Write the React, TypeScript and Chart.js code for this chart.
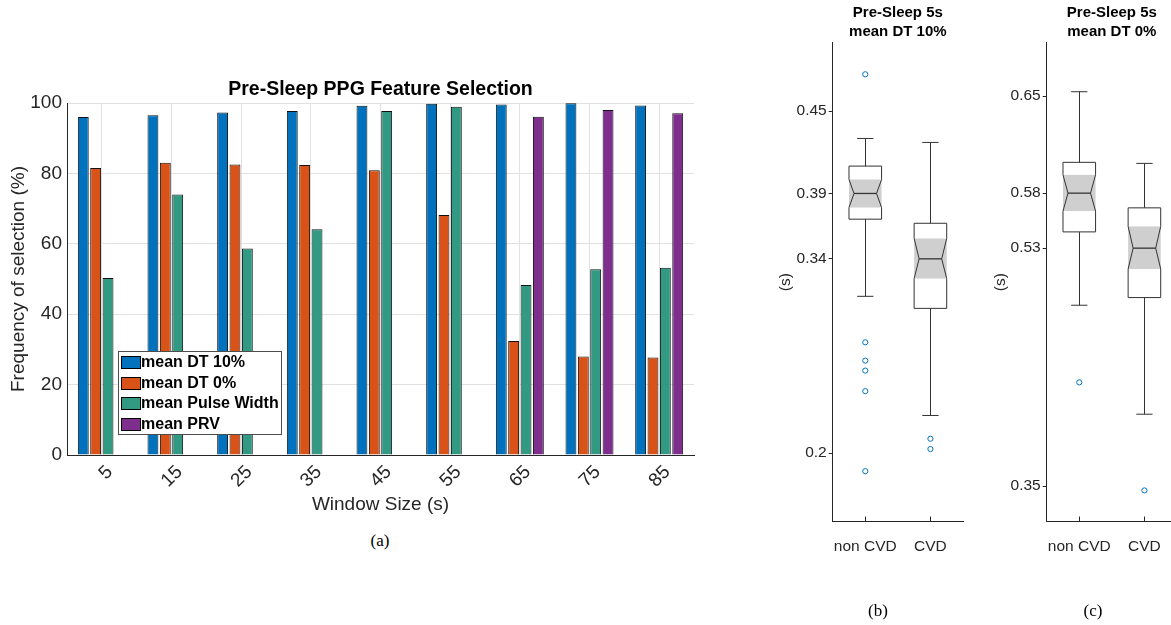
import React, { useEffect, useRef } from 'react';
import { Chart, registerables } from 'chart.js';
Chart.register(...registerables);

const FONT = "'Liberation Sans', Arial, Helvetica, sans-serif";
const SERIF = "'Liberation Serif', 'Times New Roman', serif";
const AXIS = '#262626';
const GRID = '#e1e1e1';

// ---------- Panel (a) data ----------
const windowSizes = ['5', '15', '25', '35', '45', '55', '65', '75', '85'];
const meanDT10 = [96.0, 96.5, 97.3, 97.7, 99.2, 99.8, 99.6, 99.9, 99.3];
const meanDT0 = [81.5, 83.0, 82.5, 82.4, 80.9, 68.2, 32.4, 28.0, 27.7];
const meanPulseWidth = [50.3, 74.0, 58.7, 64.1, 97.7, 98.9, 48.3, 52.8, 53.2];
const meanPRV = [0, 0, 0, 0, 0, 0, 96.1, 98.0, 97.1];
const seriesLabels = ['mean DT 10%', 'mean DT 0%', 'mean Pulse Width', 'mean PRV'];
const seriesColors = ['#0072BD', '#D95319', '#329982', '#7E2F8E'];

// ---------- Panel (b)/(c) data ----------
const groupLabels = ['non CVD', 'CVD'];
// stats order: lower whisker, q1, notch low, median, notch high, q3, upper whisker
const dt10NonCvdStats = [0.3146, 0.371, 0.3795, 0.3898, 0.4, 0.4098, 0.43];
const dt10CvdStats = [0.2275, 0.3058, 0.3276, 0.342, 0.3569, 0.368, 0.4271];
const dt10NonCvdOutliers = [0.4769, 0.281, 0.2676, 0.2603, 0.2453, 0.1868];
const dt10CvdOutliers = [0.2105, 0.203];
const dt10Ticks = [0.2, 0.342, 0.3898, 0.45];
const dt10Range = [0.15, 0.5];

const dt0NonCvdStats = [0.4891, 0.5455, 0.5615, 0.5753, 0.5894, 0.599, 0.6533];
const dt0CvdStats = [0.4053, 0.495, 0.517, 0.533, 0.5497, 0.564, 0.5982];
const dt0NonCvdOutliers = [0.4298];
const dt0CvdOutliers = [0.3467];
const dt0Ticks = [0.35, 0.533, 0.5753, 0.65];
const dt0Range = [0.3228, 0.691];

// ---------- plugins ----------
const insideLegend = {
  id: 'insideLegend',
  afterDatasetsDraw(chart: any, _args: any, opts: any) {
    const { ctx } = chart;
    const { x, y, w, h, rowH, first } = opts;
    ctx.save();
    ctx.fillStyle = '#ffffff';
    ctx.fillRect(x, y, w, h);
    ctx.strokeStyle = '#4d4d4d';
    ctx.lineWidth = 1;
    ctx.strokeRect(x + 0.5, y + 0.5, w, h);
    ctx.font = `bold 16px ${FONT}`;
    ctx.textBaseline = 'middle';
    ctx.textAlign = 'left';
    chart.data.datasets.forEach((ds: any, i: number) => {
      const cy = Math.round(y + first + i * rowH);
      ctx.fillStyle = ds.backgroundColor;
      ctx.fillRect(x + 3, cy - 6, 19, 12);
      ctx.strokeStyle = '#000';
      ctx.strokeRect(x + 3.5, cy - 5.5, 19, 12);
      ctx.fillStyle = '#000';
      ctx.fillText(ds.label, x + 23, cy + 1);
    });
    ctx.restore();
  },
};

const notchBoxes = {
  id: 'notchBoxes',
  beforeDatasetsDraw(chart: any, _args: any, opts: any) {
    const { ctx, scales } = chart;
    const xs = scales.x;
    const ys = scales.y;
    const groups: number[][] = opts.groups || [];
    const Y = (v: number) => ys.getPixelForValue(v);
    const X = (v: number) => xs.getPixelForValue(v);
    const line = (x1: number, y1: number, x2: number, y2: number) => {
      ctx.beginPath();
      ctx.moveTo(x1, y1);
      ctx.lineTo(x2, y2);
      ctx.stroke();
    };
    ctx.save();
    groups.forEach((s, i) => {
      const [wLo, q1, nLo, med, nHi, q3, wHi] = s;
      const c = i + 1;
      const xl = X(c - 0.25), xr = X(c + 0.25);
      const ml = X(c - 0.173), mr = X(c + 0.173);
      const xc = Math.round(X(c)) + 0.5;
      const cl = X(c - 0.125), cr = X(c + 0.125);
      ctx.fillStyle = '#cfcfcf';
      ctx.fillRect(xl, Y(nHi), xr - xl, Y(nLo) - Y(nHi));
      ctx.strokeStyle = '#333333';
      ctx.lineWidth = 1;
      line(xc, Y(q3), xc, Y(wHi));
      line(cl, Y(wHi), cr, Y(wHi));
      line(xc, Y(q1), xc, Y(wLo));
      line(cl, Y(wLo), cr, Y(wLo));
      ctx.beginPath();
      ctx.moveTo(xl, Y(q3));
      ctx.lineTo(xr, Y(q3));
      ctx.lineTo(xr, Y(nHi));
      ctx.lineTo(mr, Y(med));
      ctx.lineTo(xr, Y(nLo));
      ctx.lineTo(xr, Y(q1));
      ctx.lineTo(xl, Y(q1));
      ctx.lineTo(xl, Y(nLo));
      ctx.lineTo(ml, Y(med));
      ctx.lineTo(xl, Y(nHi));
      ctx.closePath();
      ctx.stroke();
      ctx.lineWidth = 1.3;
      line(ml, Y(med), mr, Y(med));
      // inward x tick mark
      ctx.lineWidth = 1;
      ctx.strokeStyle = AXIS;
      line(xc, ys.bottom, xc, ys.bottom - 5);
    });
    ctx.restore();
  },
};

function makeBarConfig(): any {
  const data = [meanDT10, meanDT0, meanPulseWidth, meanPRV];
  return {
    type: 'bar',
    data: {
      labels: windowSizes,
      datasets: data.map((d, i) => ({
        label: seriesLabels[i],
        data: d,
        backgroundColor: seriesColors[i],
        borderColor: '#111111',
        borderWidth: 1,
        categoryPercentage: 0.71,
        barPercentage: 0.88,
      })),
    },
    options: {
      animation: false,
      responsive: false,
      layout: { padding: { left: 0, right: 26, top: 0, bottom: 0 } },
      plugins: {
        legend: { display: false },
        tooltip: { enabled: false },
        title: {
          display: true,
          text: 'Pre-Sleep PPG Feature Selection',
          color: '#000',
          fullSize: false,
          font: { family: FONT, size: 19.5, weight: 'bold', lineHeight: 1.2 },
          padding: { top: 78.3, bottom: 1.3 },
        },
        insideLegend: { x: 118, y: 351, w: 163, h: 83, rowH: 20.5, first: 11 },
      },
      scales: {
        x: {
          grid: { offset: false, color: GRID, drawTicks: false },
          border: { color: AXIS },
          ticks: {
            minRotation: 45,
            maxRotation: 45,
            color: AXIS,
            font: { family: FONT, size: 19 },
            padding: 6,
            labelOffset: 8,
          },
          title: {
            display: true,
            text: 'Window Size (s)',
            color: AXIS,
            font: { family: FONT, size: 19, lineHeight: 1.2 },
            padding: { top: 0, bottom: 8.6 },
          },
          afterFit: (s: any) => { s.height = 70; },
        },
        y: {
          min: 0,
          max: 100,
          ticks: { stepSize: 20, color: AXIS, font: { family: FONT, size: 19 }, padding: 5 },
          grid: { color: GRID, drawTicks: false },
          border: { color: AXIS },
          title: {
            display: true,
            text: 'Frequency of selection (%)',
            color: AXIS,
            font: { family: FONT, size: 19, lineHeight: 1.2 },
            padding: { top: 7, bottom: 0 },
          },
          afterFit: (s: any) => { s.width = 67; },
        },
      },
    },
    plugins: [insideLegend],
  };
}

function makeBoxConfig(
  title: string[],
  stats: number[][],
  outliers: number[][],
  ticks: number[],
  range: number[],
  yWidth: number,
  padRight: number
): any {
  return {
    type: 'scatter',
    data: {
      datasets: outliers.map((arr, i) => ({
        label: groupLabels[i],
        data: arr.map((v) => ({ x: i + 1, y: v })),
        pointStyle: 'circle',
        pointRadius: 2.6,
        borderColor: '#0072BD',
        backgroundColor: 'rgba(0,0,0,0)',
        borderWidth: 1,
        showLine: false,
      })),
    },
    options: {
      animation: false,
      responsive: false,
      layout: { padding: { left: 0, right: padRight, top: 0, bottom: 0 } },
      plugins: {
        legend: { display: false },
        tooltip: { enabled: false },
        title: {
          display: true,
          text: title,
          color: '#000',
          fullSize: false,
          font: { family: FONT, size: 15, weight: 'bold', lineHeight: 19 / 15 },
          padding: { top: 3.2, bottom: 1.5 },
        },
        notchBoxes: { groups: stats },
      },
      scales: {
        x: {
          type: 'linear',
          min: 0.5,
          max: 2.5,
          afterBuildTicks: (s: any) => { s.ticks = [{ value: 1 }, { value: 2 }]; },
          ticks: {
            color: AXIS,
            font: { family: FONT, size: 15.5 },
            padding: 8,
            callback: (v: any) => groupLabels[Math.round(v) - 1],
          },
          grid: { display: false },
          border: { color: AXIS },
          afterFit: (s: any) => { s.height = 625 - 521.5; },
        },
        y: {
          min: range[0],
          max: range[1],
          afterBuildTicks: (s: any) => { s.ticks = ticks.map((v) => ({ value: v })); },
          ticks: {
            color: AXIS,
            font: { family: FONT, size: 15.5 },
            padding: 2,
            callback: (v: any) => String(Number(Number(v).toFixed(2))),
          },
          grid: { drawOnChartArea: false, drawTicks: true, tickLength: 4, color: AXIS },
          border: { color: AXIS },
          title: {
            display: true,
            text: '(s)',
            color: AXIS,
            font: { family: FONT, size: 15.5, lineHeight: 1.2 },
            padding: { top: 16, bottom: 0 },
          },
          afterFit: (s: any) => { s.width = yWidth; },
        },
      },
    },
    plugins: [notchBoxes],
  };
}

function ChartCanvas(props: { config: () => any; left: number; top: number; width: number; height: number }) {
  const ref = useRef<HTMLCanvasElement | null>(null);
  useEffect(() => {
    if (!ref.current) return;
    const chart = new Chart(ref.current, props.config());
    return () => chart.destroy();
  }, []);
  return (
    <canvas
      ref={ref}
      width={props.width}
      height={props.height}
      style={{ position: 'absolute', left: props.left, top: props.top, width: props.width, height: props.height }}
    />
  );
}

const captionStyle = (x: number, y: number): React.CSSProperties => ({
  position: 'absolute',
  left: x - 30,
  width: 60,
  top: y - 11,
  textAlign: 'center',
  fontFamily: SERIF,
  fontSize: 17,
  lineHeight: '22px',
  color: '#000',
});

export default function App() {
  return (
    <div
      style={{
        position: 'fixed',
        left: 0,
        top: 0,
        width: 1171,
        height: 625,
        overflow: 'hidden',
        background: '#fff',
      }}
    >
      <ChartCanvas config={makeBarConfig} left={0} top={0} width={720} height={525} />
      <ChartCanvas
        config={() =>
          makeBoxConfig(
            ['Pre-Sleep 5s', 'mean DT 10%'],
            [dt10NonCvdStats, dt10CvdStats],
            [dt10NonCvdOutliers, dt10CvdOutliers],
            dt10Ticks,
            dt10Range,
            72.7,
            22
          )
        }
        left={760}
        top={0}
        width={225}
        height={625}
      />
      <ChartCanvas
        config={() =>
          makeBoxConfig(
            ['Pre-Sleep 5s', 'mean DT 0%'],
            [dt0NonCvdStats, dt0CvdStats],
            [dt0NonCvdOutliers, dt0CvdOutliers],
            dt0Ticks,
            dt0Range,
            71.7,
            23
          )
        }
        left={975}
        top={0}
        width={225}
        height={625}
      />
      <div style={captionStyle(380, 541)}>(a)</div>
      <div style={captionStyle(878, 611)}>(b)</div>
      <div style={captionStyle(1093, 611)}>(c)</div>
    </div>
  );
}
